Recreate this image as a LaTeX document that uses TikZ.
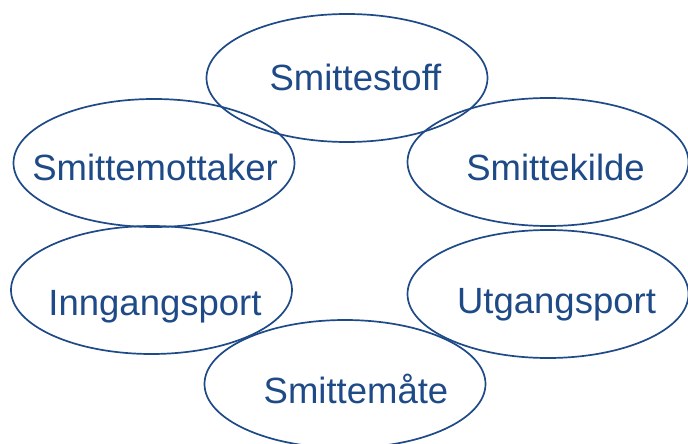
\documentclass[tikz,border=0pt]{standalone}
\usepackage{fontspec}
\setmainfont{Liberation Sans}
\usetikzlibrary{shapes.geometric}
\definecolor{dblue}{RGB}{30,74,135}
\tikzset{
  ell/.style={draw=dblue, line width=1.7pt, ellipse, inner sep=0pt,
    minimum width=281pt, minimum height=128pt},
  lbl/.style={text=dblue, font=\fontsize{36.5}{42}\selectfont, anchor=base, inner sep=0pt}
}
\begin{document}
\begin{tikzpicture}[x=1pt,y=-1pt]
\useasboundingbox (0,0) rectangle (688,444);
\node[ell] (stoff) at (347,78) {};
\node[ell] (mott) at (154,163) {};
\node[ell] (kilde) at (548,162) {};
\node[ell] (inn) at (151.5,290) {};
\node[ell] (utg) at (548,294) {};
\node[ell] (maate) at (345,384) {};
\node[lbl] (tstoff) at (355.5,90) {Smittestoff};
\node[lbl] (tmott) at (155,180) {Smittemottaker};
\node[lbl] (tkilde) at (555.5,180) {Smittekilde};
\node[lbl] (tinn) at (155,315) {Inngangsport};
\node[lbl] (tutg) at (556.5,313) {Utgangsport};
\node[lbl] (tmaate) at (356,403) {Smittemåte};
\end{tikzpicture}
\end{document}
